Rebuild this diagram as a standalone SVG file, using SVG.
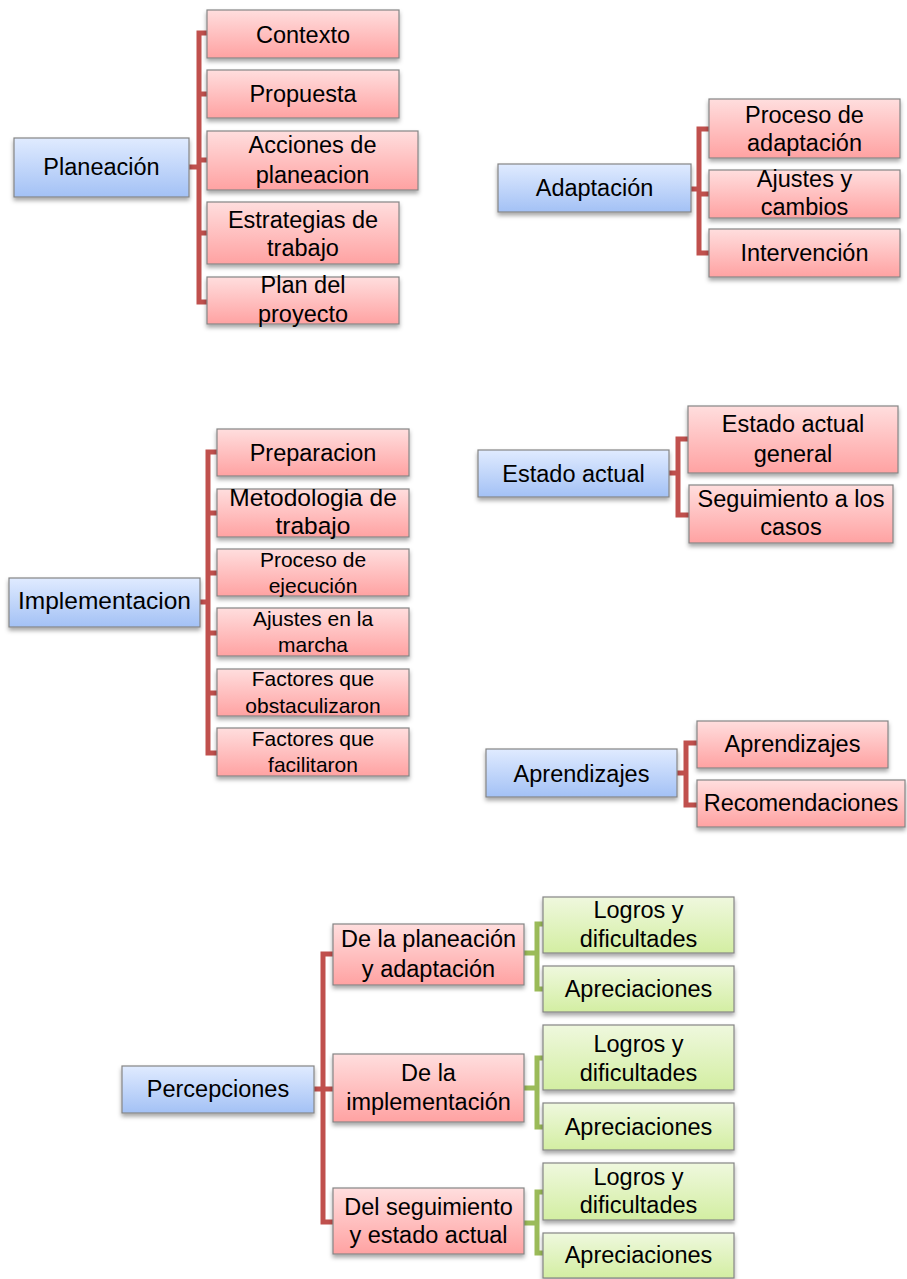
<svg xmlns="http://www.w3.org/2000/svg" width="907" height="1279" viewBox="0 0 907 1279">
<defs>
<linearGradient id="gp" x1="0" y1="0" x2="0" y2="1"><stop offset="0" stop-color="#ffdede"/><stop offset="1" stop-color="#ffa2a2"/></linearGradient>
<linearGradient id="gb" x1="0" y1="0" x2="0" y2="1"><stop offset="0" stop-color="#e0ebff"/><stop offset="1" stop-color="#a3c1f5"/></linearGradient>
<linearGradient id="gg" x1="0" y1="0" x2="0" y2="1"><stop offset="0" stop-color="#eff8de"/><stop offset="1" stop-color="#d3eea2"/></linearGradient>
<filter id="sh" x="-10%" y="-20%" width="120%" height="150%"><feDropShadow dx="0" dy="3" stdDeviation="2" flood-color="#000" flood-opacity="0.35"/></filter>
</defs>
<style>
rect{stroke:#858585;stroke-width:1.2;filter:url(#sh)}
.p{fill:url(#gp)}.b{fill:url(#gb)}.g{fill:url(#gg)}
text{font-family:"Liberation Sans",Arial,sans-serif;font-size:23.5px;fill:#000;text-anchor:middle}
.s{font-size:21px}
.r{fill:none;stroke:#c0504d;stroke-width:5}
.gl{fill:none;stroke:#9bbb59;stroke-width:5}
</style>
<rect width="907" height="1279" fill="#fff" style="stroke:none;filter:none"/>
<g id="connectors">
<path class="r" d="M189,167H199M207,33H199V302H207M199,94H207M199,160H207M199,233H207"/>
<path class="r" d="M691,189H699M709,129H699V253H709M699,194H709"/>
<path class="r" d="M200,602H208M217,452H208V753H217M208,513H217M208,573H217M208,633H217M208,693H217"/>
<path class="r" d="M669,473H678M688,439H678V515H689"/>
<path class="r" d="M677,773H686M697,743H686V805H697"/>
<path class="r" d="M314,1089H323M333,954H323V1222H333M323,1089H333"/>
<path class="gl" d="M524,953H537M543,924H537V989H543"/>
<path class="gl" d="M524,1088H537M543,1058H537V1127H543"/>
<path class="gl" d="M524,1223H537M543,1192H537V1253H543"/>
</g>
<g id="planeacion"><rect class="b" x="14" y="138" width="175" height="59"/><text x="101.5" y="175">Planeación</text></g>
<g id="contexto"><rect class="p" x="207" y="10" width="192" height="48"/><text x="303" y="43">Contexto</text></g>
<g id="propuesta"><rect class="p" x="207" y="70" width="192" height="48"/><text x="303" y="102">Propuesta</text></g>
<g id="acciones"><rect class="p" x="207" y="131" width="211" height="59"/><text x="312.5" y="153">Acciones de</text><text x="312.5" y="183">planeacion</text></g>
<g id="estrategias"><rect class="p" x="207" y="202" width="192" height="62"/><text x="303" y="228">Estrategias de</text><text x="303" y="256">trabajo</text></g>
<g id="plan"><rect class="p" x="207" y="277" width="192" height="47"/><text x="303" y="293">Plan del</text><text x="303" y="322">proyecto</text></g>

<g id="adaptacion"><rect class="b" x="498" y="164" width="193" height="48"/><text x="594.5" y="196">Adaptación</text></g>
<g id="proceso-adaptacion"><rect class="p" x="709" y="99" width="191" height="59"/><text x="804.5" y="123">Proceso de</text><text x="804.5" y="151">adaptación</text></g>
<g id="ajustes-cambios"><rect class="p" x="709" y="170" width="191" height="48"/><text x="804.5" y="187">Ajustes y</text><text x="804.5" y="215">cambios</text></g>
<g id="intervencion"><rect class="p" x="709" y="229" width="191" height="48"/><text x="804.5" y="261">Intervención</text></g>

<g id="implementacion"><rect class="b" x="9" y="578" width="191" height="49"/><text x="104.5" y="609" style="font-size:24.5px">Implementacion</text></g>
<g id="preparacion"><rect class="p" x="217" y="429" width="192" height="47"/><text x="313" y="461">Preparacion</text></g>
<g id="metodologia"><rect class="p" x="217" y="489" width="192" height="48"/><text x="313" y="506" style="font-size:24.5px">Metodologia de</text><text x="313" y="534" style="font-size:24.5px">trabajo</text></g>
<g id="proceso-ejecucion"><rect class="p" x="217" y="549" width="192" height="47"/><text class="s" x="313" y="567">Proceso de</text><text class="s" x="313" y="593">ejecución</text></g>
<g id="ajustes-marcha"><rect class="p" x="217" y="608" width="192" height="48"/><text class="s" x="313" y="626">Ajustes en la</text><text class="s" x="313" y="652">marcha</text></g>
<g id="factores-obst"><rect class="p" x="217" y="669" width="192" height="47"/><text class="s" x="313" y="686">Factores que</text><text class="s" x="313" y="713">obstaculizaron</text></g>
<g id="factores-facil"><rect class="p" x="217" y="728" width="192" height="48"/><text class="s" x="313" y="746">Factores que</text><text class="s" x="313" y="772">facilitaron</text></g>

<g id="estado-actual"><rect class="b" x="478" y="450" width="191" height="47"/><text x="573.5" y="482">Estado actual</text></g>
<g id="estado-general"><rect class="p" x="688" y="406" width="210" height="67"/><text x="793" y="432">Estado actual</text><text x="793" y="462">general</text></g>
<g id="seguimiento"><rect class="p" x="689" y="485" width="204" height="58"/><text x="791" y="507">Seguimiento a los</text><text x="791" y="535">casos</text></g>

<g id="aprendizajes"><rect class="b" x="486" y="749" width="191" height="48"/><text x="581.5" y="782">Aprendizajes</text></g>
<g id="aprendizajes-hijo"><rect class="p" x="697" y="721" width="191" height="47"/><text x="792.5" y="752">Aprendizajes</text></g>
<g id="recomendaciones"><rect class="p" x="697" y="780" width="208" height="47"/><text x="801" y="811">Recomendaciones</text></g>

<g id="percepciones"><rect class="b" x="122" y="1066" width="192" height="47"/><text x="218" y="1097">Percepciones</text></g>
<g id="de-planeacion"><rect class="p" x="333" y="924" width="191" height="61"/><text x="428.5" y="947">De la planeación</text><text x="428.5" y="977">y adaptación</text></g>
<g id="de-implementacion"><rect class="p" x="333" y="1054" width="191" height="68"/><text x="428.5" y="1081">De la</text><text x="428.5" y="1110">implementación</text></g>
<g id="del-seguimiento"><rect class="p" x="333" y="1188" width="191" height="66"/><text x="428.5" y="1215">Del seguimiento</text><text x="428.5" y="1243">y estado actual</text></g>

<g id="logros-1"><rect class="g" x="543" y="897" width="191" height="56"/><text x="638.5" y="918">Logros y</text><text x="638.5" y="947">dificultades</text></g>
<g id="apreciaciones-1"><rect class="g" x="543" y="966" width="191" height="46"/><text x="638.5" y="997">Apreciaciones</text></g>
<g id="logros-2"><rect class="g" x="543" y="1025" width="191" height="65"/><text x="638.5" y="1052">Logros y</text><text x="638.5" y="1081">dificultades</text></g>
<g id="apreciaciones-2"><rect class="g" x="543" y="1103" width="191" height="47"/><text x="638.5" y="1135">Apreciaciones</text></g>
<g id="logros-3"><rect class="g" x="543" y="1163" width="191" height="57"/><text x="638.5" y="1185">Logros y</text><text x="638.5" y="1213">dificultades</text></g>
<g id="apreciaciones-3"><rect class="g" x="543" y="1233" width="191" height="45"/><text x="638.5" y="1263">Apreciaciones</text></g>
</svg>
